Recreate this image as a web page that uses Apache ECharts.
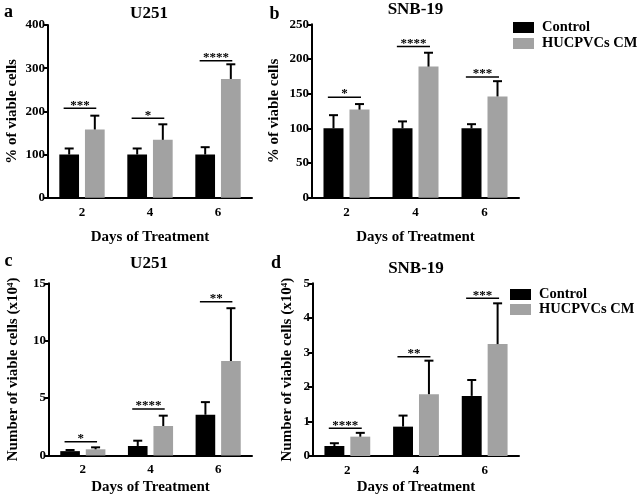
<!DOCTYPE html>
<html>
<head>
<meta charset="utf-8">
<script src="https://cdn.jsdelivr.net/npm/echarts@6/dist/echarts.min.js"></script>
<style>html,body{margin:0;padding:0;background:#fff}#c{width:638px;height:504px}</style>
</head>
<body>
<div id="c"></div>
<script>
// ---------- data ----------
const days = ['2', '4', '6'];
const seriesNames = ['Control', 'HUCPVCs CM'];

// panel a: U251, % of viable cells
const ctrlA = [100, 100, 100];
const ctrlAErr = [14, 14, 17];
const hucA = [158, 134, 275];
const hucAErr = [32, 36, 34];
const sigAY = [207, 184, 317];
const sigALabel = ['***', '*', '****'];

// panel b: SNB-19, % of viable cells
const ctrlB = [100, 100, 100];
const ctrlBErr = [19, 10, 6];
const hucB = [127, 189, 146];
const hucBErr = [8, 20, 22];
const sigBY = [145, 218, 174];
const sigBLabel = ['*', '****', '***'];

// panel c: U251, number of viable cells (x10^4)
const ctrlC = [0.38, 0.83, 3.55];
const ctrlCErr = [0.1, 0.46, 1.1];
const hucC = [0.54, 2.57, 8.23];
const hucCErr = [0.17, 0.9, 4.6];
const sigCY = [1.2, 4.05, 13.4];
const sigCLabel = ['*', '****', '**'];

// panel d: SNB-19, number of viable cells (x10^4)
const ctrlD = [0.29, 0.85, 1.74];
const ctrlDErr = [0.08, 0.32, 0.46];
const hucD = [0.56, 1.79, 3.24];
const hucDErr = [0.11, 0.97, 1.18];
const sigDY = [0.8, 2.87, 4.57];
const sigDLabel = ['****', '**', '***'];

const yTicks = {a: [0, 400, 100], b: [0, 250, 50], c: [0, 15, 5], d: [0, 5, 1]};

// ---------- styles ----------
const FF = '"Liberation Serif", "Times New Roman", serif';
const BLACK = '#000000';
const GRAY = '#a2a2a2';
const BW = 0.29, GAP = 0.30;

const grids = [
  {left: 48, top: 25, width: 204, height: 172.7},
  {left: 312, top: 24.3, width: 207, height: 173.4},
  {left: 49, top: 283.3, width: 203, height: 172.2},
  {left: 313, top: 283.3, width: 206, height: 172.7}
];

function errRender(side) {
  return function (params, api) {
    const c = api.coord([api.value(0), api.value(1)]);
    const t = api.coord([api.value(0), api.value(1) + api.value(2)]);
    const band = api.size([1, 0])[0];
    const bw = band * BW, gap = bw * GAP;
    const x = c[0] + side * (bw + gap) / 2;
    return {
      type: 'group',
      children: [
        {type: 'line', shape: {x1: x, y1: c[1], x2: x, y2: t[1]}, style: {stroke: BLACK, lineWidth: 2}},
        {type: 'line', shape: {x1: x - 4.5, y1: t[1], x2: x + 4.5, y2: t[1]}, style: {stroke: BLACK, lineWidth: 2}}
      ]
    };
  };
}

function sigRender(labels) {
  return function (params, api) {
    const p = api.coord([api.value(0), api.value(1)]);
    const band = api.size([1, 0])[0];
    const x1 = p[0] - 0.27 * band, x2 = p[0] + 0.21 * band;
    return {
      type: 'group',
      children: [
        {type: 'line', shape: {x1: x1, y1: p[1], x2: x2, y2: p[1]}, style: {stroke: BLACK, lineWidth: 1.5}},
        {type: 'text', style: {text: labels[params.dataIndex], x: (x1 + x2) / 2, y: p[1] - 3,
          align: 'center', verticalAlign: 'middle', fill: BLACK,
          fontSize: 13, fontWeight: 'bold', fontFamily: FF}}
      ]
    };
  };
}

const panels = [
  {ctrl: ctrlA, ctrlErr: ctrlAErr, huc: hucA, hucErr: hucAErr, sigY: sigAY, sigL: sigALabel, ticks: yTicks.a,
   yName: '% of viable cells', nameGap: 28, xGap: 32},
  {ctrl: ctrlB, ctrlErr: ctrlBErr, huc: hucB, hucErr: hucBErr, sigY: sigBY, sigL: sigBLabel, ticks: yTicks.b,
   yName: '% of viable cells', nameGap: 30, xGap: 32},
  {ctrl: ctrlC, ctrlErr: ctrlCErr, huc: hucC, hucErr: hucCErr, sigY: sigCY, sigL: sigCLabel, ticks: yTicks.c,
   yName: 'Number of viable cells (x10{sup|4})', nameGap: 28, xGap: 24},
  {ctrl: ctrlD, ctrlErr: ctrlDErr, huc: hucD, hucErr: hucDErr, sigY: sigDY, sigL: sigDLabel, ticks: yTicks.d,
   yName: 'Number of viable cells (x10{sup|4})', nameGap: 18, xGap: 24}
];

const xAxes = [], yAxes = [], series = [];
panels.forEach((p, i) => {
  xAxes.push({
    type: 'category', gridIndex: i, data: days,
    axisLine: {lineStyle: {color: BLACK, width: 2}},
    axisTick: {alignWithLabel: true, length: 5, lineStyle: {color: BLACK, width: 2}},
    axisLabel: {color: BLACK, fontSize: 13, fontWeight: 'bold', fontFamily: FF, margin: 8},
    name: 'Days of Treatment', nameLocation: 'middle', nameGap: p.xGap,
    nameTextStyle: {color: BLACK, fontSize: 15, fontWeight: 'bold', fontFamily: FF}
  });
  yAxes.push({
    type: 'value', gridIndex: i, min: p.ticks[0], max: p.ticks[1], interval: p.ticks[2],
    axisLine: {show: true, lineStyle: {color: BLACK, width: 2}},
    axisTick: {show: true, length: 5, lineStyle: {color: BLACK, width: 2}},
    splitLine: {show: false},
    axisLabel: {color: BLACK, fontSize: 13, fontWeight: 'bold', fontFamily: FF, margin: 3},
    name: p.yName, nameLocation: 'middle', nameGap: p.nameGap, nameRotate: 90,
    nameTextStyle: {color: BLACK, fontSize: 15, fontWeight: 'bold', fontFamily: FF,
      rich: {sup: {fontSize: 9, fontWeight: 'bold', fontFamily: FF, color: BLACK, verticalAlign: 'top'}}}
  });
  series.push({
    name: seriesNames[0], type: 'bar', xAxisIndex: i, yAxisIndex: i, data: p.ctrl,
    barWidth: (BW * 100) + '%', barGap: (GAP * 100) + '%', itemStyle: {color: BLACK}, silent: true
  });
  series.push({
    name: seriesNames[1], type: 'bar', xAxisIndex: i, yAxisIndex: i, data: p.huc,
    barWidth: (BW * 100) + '%', barGap: (GAP * 100) + '%', itemStyle: {color: GRAY}, silent: true
  });
  series.push({
    name: 'err0_' + i, type: 'custom', xAxisIndex: i, yAxisIndex: i, z: 3,
    data: days.map((d, k) => [k, p.ctrl[k], p.ctrlErr[k]]), renderItem: errRender(-1), silent: true
  });
  series.push({
    name: 'err1_' + i, type: 'custom', xAxisIndex: i, yAxisIndex: i, z: 3,
    data: days.map((d, k) => [k, p.huc[k], p.hucErr[k]]), renderItem: errRender(1), silent: true
  });
  series.push({
    name: 'sig_' + i, type: 'custom', xAxisIndex: i, yAxisIndex: i, z: 3,
    data: days.map((d, k) => [k, p.sigY[k]]), renderItem: sigRender(p.sigL), silent: true
  });
});

function txt(t, x, y, size) {
  return {type: 'text', x: x, y: y, silent: true,
    style: {text: t, align: 'center', verticalAlign: 'middle', fill: BLACK,
      fontSize: size, fontWeight: 'bold', fontFamily: FF}};
}

const legendBase = {
  orient: 'vertical', data: seriesNames, icon: 'rect', itemWidth: 21, itemHeight: 11,
  itemGap: 1, selectedMode: false, padding: 0,
  textStyle: {color: BLACK, fontSize: 14.5, fontWeight: 'bold', fontFamily: FF, lineHeight: 15,
    padding: [0, 0, 0, 3]}
};

const option = {
  animation: false,
  backgroundColor: '#fff',
  grid: grids,
  xAxis: xAxes,
  yAxis: yAxes,
  legend: [
    Object.assign({}, legendBase, {left: 513, top: 20}),
    Object.assign({}, legendBase, {left: 510, top: 287, itemGap: 0})
  ],
  graphic: [
    txt('U251', 149, 13.5, 17),
    txt('SNB-19', 415.5, 10, 17),
    txt('U251', 149, 264, 17),
    txt('SNB-19', 416, 268.5, 17),
    txt('a', 8.5, 12.6, 18),
    txt('b', 274.5, 13.9, 18),
    txt('c', 8.5, 261.3, 18),
    txt('d', 276, 262.9, 18)
  ],
  series: series
};

const chart = echarts.init(document.getElementById('c'), null, {renderer: 'canvas'});
chart.setOption(option);
</script>
</body>
</html>
